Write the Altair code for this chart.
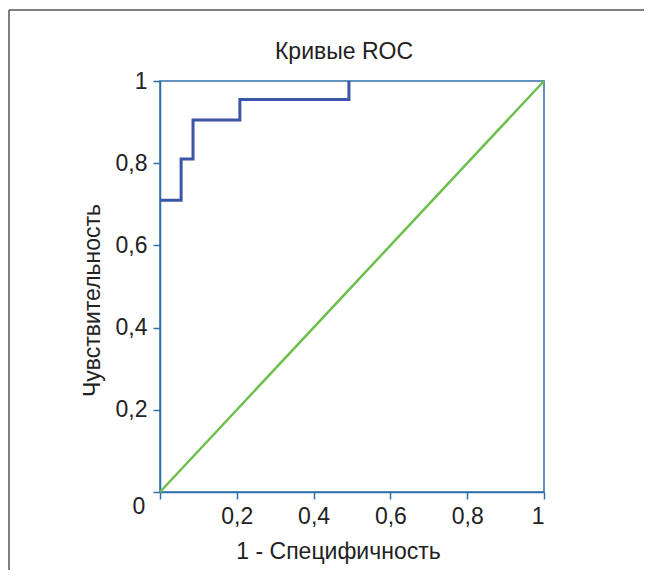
import altair as alt
import pandas as pd

# ROC curve (step)
fpr = [0.0, 0.055, 0.086, 0.208, 0.492]
tpr = [0.71, 0.81, 0.905, 0.955, 1.0]

# reference diagonal
diag_x = [0.0, 1.0]
diag_y = [0.0, 1.0]

tick_vals = [0, 0.2, 0.4, 0.6, 0.8, 1]

FONT = "Liberation Sans"
BLUE_AX = "#2f6fa8"
TXT = "#222222"
FS = 23

roc = pd.DataFrame({"x": fpr, "y": tpr})
diag = pd.DataFrame({"x": diag_x, "y": diag_y})
origin = pd.DataFrame({"x": [0.0], "y": [0.0], "t": ["0"]})
title_df = pd.DataFrame({"t": ["Кривые ROC"]})

lab = "datum.value == 0 ? '' : replace(format(datum.value, '.1~f'), '.', ',')"

xs = alt.Scale(domain=[0, 1], nice=False, zero=False)
ys = alt.Scale(domain=[0, 1], nice=False, zero=False)

xaxis = alt.Axis(values=tick_vals, labelExpr=lab, grid=False, title="1 - Специфичность",
                 titleX=178, titleY=59, titleBaseline="middle", titleAlign="center",
                 labelPadding=6, tickSize=7)
yaxis = alt.Axis(values=tick_vals, labelExpr=lab, grid=False, title="Чувствительность",
                 titleX=-68, titleY=219, titleBaseline="middle", titleAlign="center",
                 labelPadding=6, tickSize=7)

base_diag = alt.Chart(diag).mark_line(color="#6cbf4c", strokeWidth=2.5).encode(
    x=alt.X("x:Q", scale=xs, axis=xaxis),
    y=alt.Y("y:Q", scale=ys, axis=yaxis),
)

curve = alt.Chart(roc).mark_line(color="#3b55a7", strokeWidth=3, interpolate="step-after").encode(
    x=alt.X("x:Q", scale=xs),
    y=alt.Y("y:Q", scale=ys),
)

zero_lbl = alt.Chart(origin).mark_text(font=FONT, fontSize=FS, color=TXT, dx=-21, dy=15,
                                       align="center", baseline="middle").encode(
    x=alt.X("x:Q", scale=xs), y=alt.Y("y:Q", scale=ys), text="t:N"
)

title_txt = alt.Chart(title_df).mark_text(font=FONT, fontSize=FS, color=TXT,
                                          align="center", baseline="middle").encode(
    x=alt.value(184), y=alt.value(-29), text="t:N"
)

frame_v = alt.Chart(origin).mark_rule(color="#555555", strokeWidth=1.5).encode(
    x=alt.value(-151), y=alt.value(-71), y2=alt.value(700)
)
frame_h = alt.Chart(origin).mark_rule(color="#555555", strokeWidth=1.5).encode(
    x=alt.value(-151), x2=alt.value(800), y=alt.value(-71)
)

chart = alt.layer(frame_v, frame_h, base_diag, curve, zero_lbl, title_txt).properties(
    width=384,
    height=411,
    autosize=alt.AutoSizeParams(type="none"),
    padding={"left": 152, "top": 73, "right": 100, "bottom": 78},
).configure_view(
    stroke=BLUE_AX, strokeWidth=1.5
).configure_axis(
    domainColor=BLUE_AX, tickColor=BLUE_AX, domainWidth=1.5, tickWidth=1.5,
    labelFont=FONT, labelFontSize=FS, labelColor=TXT,
    titleFont=FONT, titleFontSize=FS, titleColor=TXT, titleFontWeight="normal",
)

chart.save("out.html", embed_options={"renderer": "svg", "actions": False})
